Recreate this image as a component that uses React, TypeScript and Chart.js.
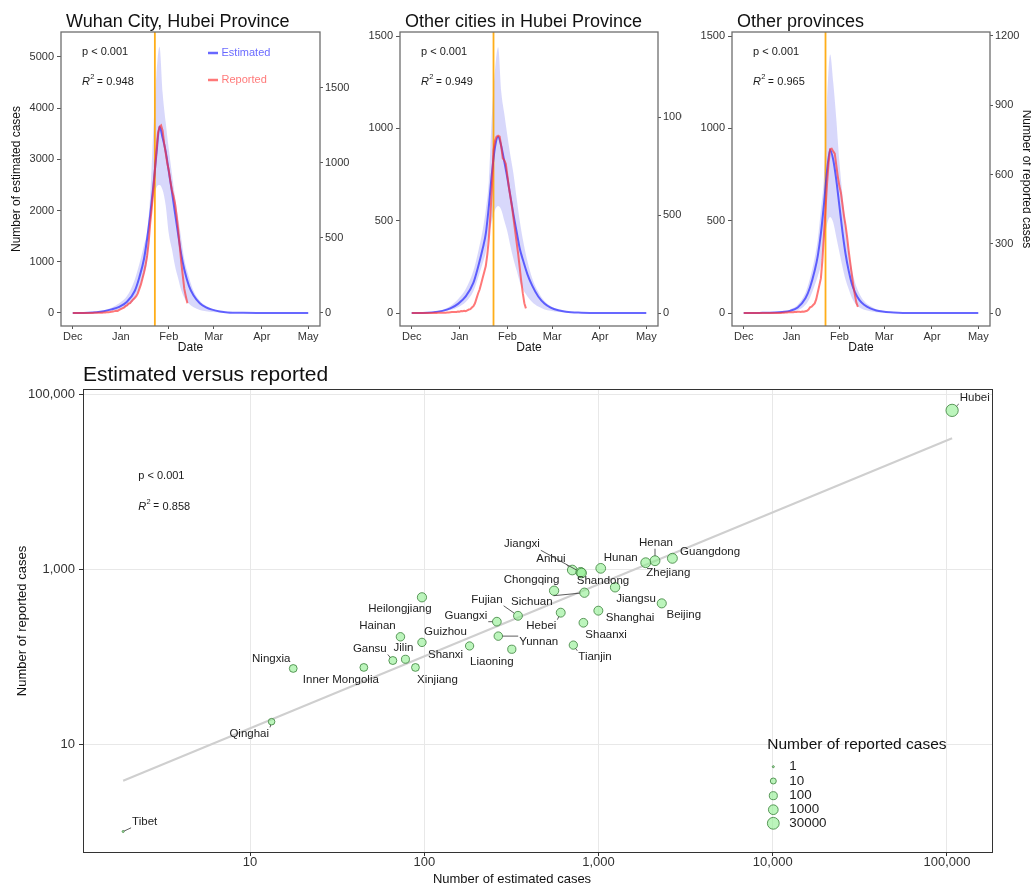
import React, { useEffect, useRef } from "react";
import { Chart, registerables } from "chart.js";

Chart.register(...registerables);

const FONT = "'Liberation Sans', Arial, Helvetica, sans-serif";

// ---------------- Top panels (x = days since 1 Dec 2019) ----------------
const MONTH_TICKS = [0, 31, 62, 91, 122, 152];
const MONTH_LABELS = ["Dec", "Jan", "Feb", "Mar", "Apr", "May"];
const LOCKDOWN_DAY = 53; // 23 January

const CURVE_DAYS = [0, 10, 20, 25, 30, 35, 40, 43, 46, 48, 50, 52, 54, 56, 58, 60, 62, 64, 66, 68, 70, 72, 75, 78, 82, 86, 90, 95, 100, 110, 120, 130, 140, 152];

const WUHAN_ESTIMATED = [0, 5, 35, 70, 120, 220, 430, 700, 1060, 1450, 1920, 2480, 3100, 3640, 3420, 3150, 2760, 2370, 1950, 1540, 1150, 850, 530, 340, 190, 110, 65, 30, 12, 4, 1, 0, 0, 0];
const WUHAN_UPPER = [0, 8, 50, 100, 190, 330, 650, 960, 1330, 1600, 2300, 3570, 4650, 5200, 4300, 3720, 3200, 2720, 2270, 1870, 1460, 1050, 700, 430, 240, 140, 80, 38, 16, 5, 1, 0, 0, 0];
const WUHAN_LOWER = [0, 2, 20, 40, 70, 130, 280, 480, 750, 1000, 1650, 2200, 2450, 2500, 2400, 2100, 1550, 1250, 920, 680, 450, 300, 180, 110, 60, 35, 20, 10, 4, 1, 0, 0, 0, 0];
// daily reported onsets, day 0 .. 74
const WUHAN_REPORTED = [
  0, 0, 0, 0, 0, 0, 0, 0, 0, 0,
  0, 0, 0, 0, 1, 1, 1, 2, 2, 2,
  3, 3, 4, 5, 6, 8, 10, 12, 15, 14,
  20, 25, 30, 35, 45, 50, 62, 65, 78, 90,
  100, 112, 130, 160, 190, 230, 270, 320, 380, 470,
  600, 700, 820, 950, 1080, 1200, 1240, 1250, 1215, 1130,
  1065, 1000, 950, 880, 820, 780, 730, 650, 560, 450,
  340, 250, 160, 110, 65,
];

const HUBEI_ESTIMATED = [0, 2, 12, 25, 50, 90, 165, 250, 350, 430, 580, 760, 900, 955, 905, 820, 730, 630, 530, 440, 350, 290, 210, 150, 90, 52, 30, 15, 7, 2, 0, 0, 0, 0];
const HUBEI_UPPER = [0, 3, 18, 38, 75, 130, 230, 330, 450, 560, 720, 1080, 1320, 1440, 1200, 1080, 960, 850, 750, 620, 500, 400, 280, 190, 115, 65, 38, 18, 9, 3, 0, 0, 0, 0];
const HUBEI_LOWER = [0, 1, 8, 16, 32, 60, 120, 190, 270, 330, 420, 500, 560, 580, 560, 500, 440, 360, 290, 230, 170, 130, 90, 60, 35, 20, 12, 6, 3, 1, 0, 0, 0, 0];
const HUBEI_REPORTED = [
  0, 0, 0, 0, 0, 0, 0, 0, 0, 0,
  0, 0, 0, 0, 0, 1, 0, 1, 1, 1,
  1, 2, 2, 3, 3, 4, 5, 5, 6, 6,
  8, 7, 10, 9, 12, 10, 14, 18, 20, 28,
  35, 50, 75, 100, 120, 150, 180, 210, 240, 300,
  380, 500, 650, 830, 880, 900, 905, 900, 850, 790,
  780, 760, 700, 640, 590, 540, 480, 420, 360, 300,
  230, 160, 100, 50, 24,
];

const PROV_ESTIMATED = [0, 1, 3, 6, 12, 30, 80, 140, 230, 310, 430, 590, 770, 885, 830, 720, 580, 440, 320, 230, 160, 115, 70, 45, 25, 14, 8, 4, 2, 0, 0, 0, 0, 0];
const PROV_UPPER = [0, 2, 5, 10, 20, 45, 110, 190, 300, 400, 560, 740, 1150, 1400, 1250, 1050, 820, 640, 480, 340, 240, 170, 105, 65, 38, 20, 11, 5, 2, 0, 0, 0, 0, 0];
const PROV_LOWER = [0, 0, 1, 3, 6, 15, 45, 85, 150, 200, 260, 380, 480, 520, 490, 410, 330, 250, 180, 130, 85, 55, 30, 18, 10, 5, 3, 1, 0, 0, 0, 0, 0, 0];
const PROV_REPORTED = [
  0, 0, 0, 0, 0, 0, 0, 0, 0, 0,
  0, 0, 0, 0, 0, 0, 0, 0, 0, 0,
  0, 0, 0, 0, 0, 1, 1, 2, 2, 3,
  3, 4, 4, 5, 5, 6, 6, 5, 7, 6,
  8, 10, 15, 25, 28, 35, 42, 60, 90, 120,
  150, 230, 340, 450, 560, 650, 710, 712, 700, 690,
  640, 590, 550, 520, 470, 420, 380, 330, 270, 220,
  170, 120, 80, 45, 27,
];

const WUHAN_LEFT_TICKS = [0, 1000, 2000, 3000, 4000, 5000];
const WUHAN_RIGHT_TICKS = [0, 500, 1000, 1500];
const HUBEI_LEFT_TICKS = [0, 500, 1000, 1500];
const HUBEI_RIGHT_TICKS = [0, 500, 1000];
const PROV_LEFT_TICKS = [0, 500, 1000, 1500];
const PROV_RIGHT_TICKS = [0, 300, 600, 900, 1200];

// ---------------- Bottom scatter ----------------
const PROVINCES = ["Hubei", "Guangdong", "Henan", "Zhejiang", "Hunan", "Anhui", "Jiangxi", "Shandong", "Chongqing", "Sichuan", "Jiangsu", "Heilongjiang", "Beijing", "Shanghai", "Hebei", "Fujian", "Guangxi", "Shaanxi", "Yunnan", "Hainan", "Guizhou", "Tianjin", "Shanxi", "Liaoning", "Jilin", "Gansu", "Xinjiang", "Inner Mongolia", "Ningxia", "Qinghai", "Tibet"];
const ESTIMATED_CASES = [107000, 2655, 2110, 1866, 1030, 707, 790, 800, 556, 830, 1245, 97, 2307, 998, 607, 345, 261, 819, 266, 73, 97, 717, 182, 318, 78, 66, 89, 45, 17.7, 13.3, 1.87];
const REPORTED_CASES = [65000, 1325, 1244, 1180, 1018, 974, 917, 900, 565, 536, 618, 475, 405, 334, 317, 292, 250, 243, 171, 168, 145, 135, 132, 121, 93, 90, 75, 75, 73, 18, 1];
const FIT_X = [1.87, 107000];
const FIT_Y = [3.8, 31200];
const SCATTER_X_TICKS = [10, 100, 1000, 10000, 100000];
const SCATTER_Y_TICKS = [10, 1000, 100000];
const SIZE_BREAKS = [1, 10, 100, 1000, 30000];

// label placement (pixel offsets of the label centre from its point)
const LABEL_OFFSETS: Record<string, [number, number]> = {
  Hubei: [22.7, -12.4], Guangdong: [37.7, -6.6], Henan: [1, -18], Zhejiang: [22.6, 10.6],
  Hunan: [20, -10.6], Anhui: [-21.3, -11], Jiangxi: [-58.7, -28], Shandong: [21.4, 7.7],
  Chongqing: [-22.5, -10.7], Sichuan: [-52.6, 9], Jiangsu: [21, 11.7], Heilongjiang: [-22, 12],
  Beijing: [22, 11], Shanghai: [31.7, 7.6], Hebei: [-19.4, 13], Fujian: [-31, -16],
  Guangxi: [-31, -6], Shaanxi: [22.7, 11.6], Yunnan: [40.4, 5.7], Hainan: [-23, -11],
  Guizhou: [23.5, -10.5], Tianjin: [21.7, 11.7], Shanxi: [-24, 9], Liaoning: [-20, 12.5],
  Jilin: [-2, -11], Gansu: [-23, -12], Xinjiang: [22, 12], "Inner Mongolia": [-23, 12],
  Ningxia: [-22, -10], Qinghai: [-22.4, 11.7], Tibet: [21.5, -9.7],
};

const BLUE = "rgba(40,40,255,0.70)";
const RED = "rgba(255,50,50,0.66)";
const RIBBON = "rgba(180,180,248,0.52)";
const ORANGE = "rgba(255,165,0,0.9)";

function sizeRadius(v: number) {
  return 1 + 2 * Math.pow(Math.max(Math.log10(v), 0), 0.6);
}

function drawText(ctx: CanvasRenderingContext2D, s: string, x: number, y: number, font: string, color: string, align: CanvasTextAlign = "left", baseline: CanvasTextBaseline = "middle", rot = 0) {
  ctx.save();
  ctx.font = font;
  ctx.fillStyle = color;
  ctx.textAlign = align;
  ctx.textBaseline = baseline;
  ctx.translate(x, y);
  if (rot) ctx.rotate(rot);
  ctx.fillText(s, 0, 0);
  ctx.restore();
}

function drawStats(ctx: CanvasRenderingContext2D, x: number, yP: number, yR: number, r2: string) {
  const c = "#1a1a1a";
  drawText(ctx, "p < 0.001", x, yP, `11px ${FONT}`, c);
  drawText(ctx, "R", x, yR, `italic 11px ${FONT}`, c);
  drawText(ctx, "2", x + 8.3, yR - 5, `7.5px ${FONT}`, c);
  drawText(ctx, "=", x + 15, yR, `10px ${FONT}`, c);
  drawText(ctx, r2, x + 24.3, yR, `11px ${FONT}`, c);
}

type PanelSpec = {
  ox: number; w: number;
  l: number; r: number; t: number; b: number;
  title: string; r2: string;
  est: number[]; upper: number[]; lower: number[]; reported: number[];
  yMin: number; yMax: number; yTicks: number[];
  y2Min: number; y2Max: number; y2Ticks: number[];
  legend: boolean; leftTitle: boolean; rightTitle: boolean;
};

const PANELS: PanelSpec[] = [
  { ox: 0, w: 352, l: 61, r: 320, t: 32, b: 326, title: "Wuhan City, Hubei Province", r2: "0.948",
    est: WUHAN_ESTIMATED, upper: WUHAN_UPPER, lower: WUHAN_LOWER, reported: WUHAN_REPORTED,
    yMin: -254, yMax: 5488, yTicks: WUHAN_LEFT_TICKS, y2Min: -87, y2Max: 1873, y2Ticks: WUHAN_RIGHT_TICKS,
    legend: true, leftTitle: true, rightTitle: false },
  { ox: 352, w: 331, l: 400, r: 658, t: 32, b: 326, title: "Other cities in Hubei Province", r2: "0.949",
    est: HUBEI_ESTIMATED, upper: HUBEI_UPPER, lower: HUBEI_LOWER, reported: HUBEI_REPORTED,
    yMin: -70, yMax: 1522, yTicks: HUBEI_LEFT_TICKS, y2Min: -66, y2Max: 1434, y2Ticks: HUBEI_RIGHT_TICKS,
    legend: false, leftTitle: false, rightTitle: false },
  { ox: 683, w: 348, l: 732, r: 990, t: 32, b: 326, title: "Other provinces", r2: "0.965",
    est: PROV_ESTIMATED, upper: PROV_UPPER, lower: PROV_LOWER, reported: PROV_REPORTED,
    yMin: -70, yMax: 1522, yTicks: PROV_LEFT_TICKS, y2Min: -56, y2Max: 1217, y2Ticks: PROV_RIGHT_TICKS,
    legend: false, leftTitle: false, rightTitle: true },
];
const TOP_H = 360;

function makePanel(canvas: HTMLCanvasElement, p: PanelSpec) {
  const leftW = 40;
  const rightW = p.ox + p.w - p.r - 1;
  const tickFont = { family: FONT, size: 11 };
  const plain = (v: any) => String(v);
  const deco = {
    id: "panelDeco",
    beforeDatasetDraw(chart: any, args: any) {
      if (args.index !== 1) return;
      const { ctx, chartArea } = chart;
      const x = chart.scales.x.getPixelForValue(LOCKDOWN_DAY);
      ctx.save();
      ctx.strokeStyle = ORANGE;
      ctx.lineWidth = 1.8;
      ctx.beginPath();
      ctx.moveTo(x, chartArea.top);
      ctx.lineTo(x, chartArea.bottom);
      ctx.stroke();
      ctx.restore();
    },
    afterDraw(chart: any) {
      const { ctx, chartArea: a } = chart;
      const ox = p.ox;
      ctx.save();
      ctx.strokeStyle = "#6e6e6e";
      ctx.lineWidth = 1.3;
      ctx.strokeRect(a.left, a.top, a.right - a.left, a.bottom - a.top);
      ctx.restore();
      drawText(ctx, p.title, p.l + 5 - ox, 27, `18px ${FONT}`, "#111", "left", "alphabetic");
      drawStats(ctx, p.l + 21 - ox, 52, 82, p.r2);
      drawText(ctx, "Date", (a.left + a.right) / 2, 348, `12px ${FONT}`, "#111", "center");
      if (p.leftTitle) drawText(ctx, "Number of estimated cases", 16.5 - ox, (a.top + a.bottom) / 2, `12px ${FONT}`, "#111", "center", "middle", -Math.PI / 2);
      if (p.rightTitle) drawText(ctx, "Number of reported cases", 1026 - ox, (a.top + a.bottom) / 2, `12px ${FONT}`, "#111", "center", "middle", Math.PI / 2);
      if (p.legend) {
        const items: [string, string, number][] = [["Estimated", BLUE, 53], ["Reported", RED, 80]];
        items.forEach(([lab, col, y]) => {
          ctx.save();
          ctx.strokeStyle = col;
          ctx.lineWidth = 2.5;
          ctx.beginPath();
          ctx.moveTo(208 - ox, y);
          ctx.lineTo(218 - ox, y);
          ctx.stroke();
          ctx.restore();
          drawText(ctx, lab, 221.5 - ox, y, `11px ${FONT}`, col);
        });
      }
    },
  };
  return new Chart(canvas, {
    type: "line",
    data: {
      datasets: [
        { label: "Reported", data: p.reported.map((v, i) => ({ x: i, y: v })), yAxisID: "y2", borderColor: RED, borderWidth: 2, pointRadius: 0, tension: 0, fill: false },
        { label: "Estimated", data: CURVE_DAYS.map((d, i) => ({ x: d, y: p.est[i] })), yAxisID: "y", borderColor: BLUE, borderWidth: 2, pointRadius: 0, cubicInterpolationMode: "monotone", fill: false },
        { label: "lower", data: CURVE_DAYS.map((d, i) => ({ x: d, y: p.lower[i] })), yAxisID: "y", borderColor: "rgba(0,0,0,0)", borderWidth: 0, pointRadius: 0, cubicInterpolationMode: "monotone", fill: false },
        { label: "upper", data: CURVE_DAYS.map((d, i) => ({ x: d, y: p.upper[i] })), yAxisID: "y", borderColor: "rgba(0,0,0,0)", borderWidth: 0, pointRadius: 0, cubicInterpolationMode: "monotone", fill: "-1", backgroundColor: RIBBON },
      ],
    } as any,
    options: {
      responsive: false,
      animation: false,
      devicePixelRatio: 1,
      layout: { padding: { left: p.l - p.ox - leftW, right: 1, top: p.t, bottom: TOP_H - p.b - 30 } },
      plugins: { legend: { display: false }, tooltip: { enabled: false } },
      scales: {
        x: {
          type: "linear", min: -7.6, max: 159.6,
          afterBuildTicks: (s: any) => { s.ticks = MONTH_TICKS.map((v) => ({ value: v })); },
          afterFit: (s: any) => { s.height = 30; },
          ticks: { callback: (v: any) => MONTH_LABELS[MONTH_TICKS.indexOf(Number(v))] ?? "", font: tickFont, color: "#333", padding: 1, maxRotation: 0, autoSkip: false },
          grid: { display: true, drawOnChartArea: false, tickLength: 3, color: "#555" },
          border: { display: false },
        },
        y: {
          type: "linear", position: "left", min: p.yMin, max: p.yMax,
          afterBuildTicks: (s: any) => { s.ticks = p.yTicks.map((v) => ({ value: v })); },
          afterFit: (s: any) => { s.width = leftW; },
          ticks: { callback: plain, font: tickFont, color: "#333", padding: 3 },
          grid: { display: true, drawOnChartArea: false, tickLength: 4, color: "#555" },
          border: { display: false },
        },
        y2: {
          type: "linear", position: "right", min: p.y2Min, max: p.y2Max,
          afterBuildTicks: (s: any) => { s.ticks = p.y2Ticks.map((v) => ({ value: v })); },
          afterFit: (s: any) => { s.width = rightW; },
          ticks: { callback: plain, font: tickFont, color: "#333", padding: 2 },
          grid: { display: true, drawOnChartArea: false, tickLength: 3, color: "#555" },
          border: { display: false },
        },
      },
    } as any,
    plugins: [deco],
  });
}

const BOT = { ox: 0, oy: 360, w: 1031, h: 526, l: 83, r: 993, t: 389, b: 853 };

function makeScatter(canvas: HTMLCanvasElement) {
  const oy = BOT.oy;
  const leftW = 60;
  const radii = REPORTED_CASES.map(sizeRadius);
  const deco = {
    id: "scatterDeco",
    afterDatasetsDraw(chart: any) {
      const meta = chart.getDatasetMeta(0);
      const ctx = chart.ctx as CanvasRenderingContext2D;
      ctx.save();
      ctx.font = `11.5px ${FONT}`;
      ctx.textAlign = "center";
      ctx.textBaseline = "middle";
      PROVINCES.forEach((name, i) => {
        const el = meta.data[i];
        const px = el.x, py = el.y;
        const [dx, dy] = LABEL_OFFSETS[name];
        const cx = px + dx, cy = py + dy;
        const w = ctx.measureText(name).width;
        const hx = w / 2 + 1, hy = 6;
        const nx = Math.max(cx - hx, Math.min(px, cx + hx));
        const ny = Math.max(cy - hy, Math.min(py, cy + hy));
        const ddx = nx - px, ddy = ny - py;
        const d = Math.hypot(ddx, ddy);
        const r = radii[i];
        if (d > r + 2.5) {
          ctx.strokeStyle = "#333";
          ctx.lineWidth = 0.8;
          ctx.beginPath();
          ctx.moveTo(px + (ddx / d) * r, py + (ddy / d) * r);
          ctx.lineTo(nx, ny);
          ctx.stroke();
        }
        ctx.fillStyle = "#222";
        ctx.fillText(name, cx, cy);
      });
      ctx.restore();
    },
    afterDraw(chart: any) {
      const { ctx, chartArea: a } = chart;
      ctx.save();
      ctx.strokeStyle = "#333";
      ctx.lineWidth = 1;
      ctx.strokeRect(a.left + 0.5, a.top + 0.5, a.right - a.left - 1, a.bottom - a.top - 1);
      ctx.restore();
      drawText(ctx, "Estimated versus reported", 83, 381 - oy, `21px ${FONT}`, "#111", "left", "alphabetic");
      drawStats(ctx, 138.3, 475.7 - oy, 506.7 - oy, "0.858");
      drawText(ctx, "Number of estimated cases", 512, 879 - oy, `13px ${FONT}`, "#111", "center");
      drawText(ctx, "Number of reported cases", 22, 621 - oy, `13px ${FONT}`, "#111", "center", "middle", -Math.PI / 2);
      // size legend
      drawText(ctx, "Number of reported cases", 767.3, 745 - oy, `15.5px ${FONT}`, "#111");
      const ys = [766.7, 781, 795.7, 809.7, 823.3];
      SIZE_BREAKS.forEach((v, i) => {
        const r = sizeRadius(v);
        ctx.save();
        ctx.beginPath();
        ctx.arc(773.3, ys[i] - oy, r, 0, Math.PI * 2);
        ctx.fillStyle = "rgba(144,238,144,0.6)";
        ctx.fill();
        ctx.strokeStyle = "rgba(60,130,60,0.9)";
        ctx.lineWidth = 0.9;
        ctx.stroke();
        ctx.restore();
        drawText(ctx, String(v), 789.3, ys[i] - oy, `13.4px ${FONT}`, "#222");
      });
    },
  };
  const fmt = (v: any) => Number(v).toLocaleString("en-US");
  return new Chart(canvas, {
    type: "scatter",
    data: {
      datasets: [
        {
          label: "provinces",
          data: PROVINCES.map((_, i) => ({ x: ESTIMATED_CASES[i], y: REPORTED_CASES[i] })),
          pointRadius: radii,
          backgroundColor: "rgba(144,238,144,0.6)",
          borderColor: "rgba(60,130,60,0.9)",
          borderWidth: 0.9,
        },
        {
          type: "line",
          label: "fit",
          data: FIT_X.map((x, i) => ({ x, y: FIT_Y[i] })),
          borderColor: "#cfcfcf",
          borderWidth: 2,
          pointRadius: 0,
          showLine: true,
          fill: false,
        },
      ],
    } as any,
    options: {
      responsive: false,
      animation: false,
      devicePixelRatio: 1,
      layout: { padding: { left: BOT.l - leftW, right: BOT.w - BOT.r, top: BOT.t - oy, bottom: BOT.h - (BOT.b - oy) - 30 } },
      plugins: { legend: { display: false }, tooltip: { enabled: false } },
      scales: {
        x: {
          type: "logarithmic", min: 1.1, max: 183700,
          afterBuildTicks: (s: any) => { s.ticks = SCATTER_X_TICKS.map((v) => ({ value: v })); },
          afterFit: (s: any) => { s.height = 30; },
          ticks: { callback: fmt, font: { family: FONT, size: 13 }, color: "#333", padding: -1, maxRotation: 0, autoSkip: false },
          grid: { display: true, color: "#e8e8e8", lineWidth: 1, tickColor: "#333", tickLength: 3 },
          border: { display: false },
        },
        y: {
          type: "logarithmic", min: 0.568, max: 114100,
          afterBuildTicks: (s: any) => { s.ticks = SCATTER_Y_TICKS.map((v) => ({ value: v })); },
          afterFit: (s: any) => { s.width = leftW; },
          ticks: { callback: fmt, font: { family: FONT, size: 13 }, color: "#333", padding: 4 },
          grid: { display: true, color: "#e8e8e8", lineWidth: 1, tickColor: "#333", tickLength: 4 },
          border: { display: false },
        },
      },
    } as any,
    plugins: [deco],
  });
}

export default function App() {
  const refs = useRef<(HTMLCanvasElement | null)[]>([]);
  useEffect(() => {
    const charts: Chart[] = [];
    PANELS.forEach((p, i) => {
      const c = refs.current[i];
      if (c) charts.push(makePanel(c, p));
    });
    const sc = refs.current[3];
    if (sc) charts.push(makeScatter(sc));
    return () => charts.forEach((c) => c.destroy());
  }, []);
  return (
    <div style={{ position: "absolute", left: 0, top: 0, width: 1031, height: 886, background: "#fff", overflow: "hidden" }}>
      {PANELS.map((p, i) => (
        <canvas
          key={i}
          ref={(el) => { refs.current[i] = el; }}
          width={p.w}
          height={TOP_H}
          style={{ position: "absolute", left: p.ox, top: 0, width: p.w, height: TOP_H, display: "block" }}
        />
      ))}
      <canvas
        ref={(el) => { refs.current[3] = el; }}
        width={BOT.w}
        height={BOT.h}
        style={{ position: "absolute", left: BOT.ox, top: BOT.oy, width: BOT.w, height: BOT.h, display: "block" }}
      />
    </div>
  );
}
